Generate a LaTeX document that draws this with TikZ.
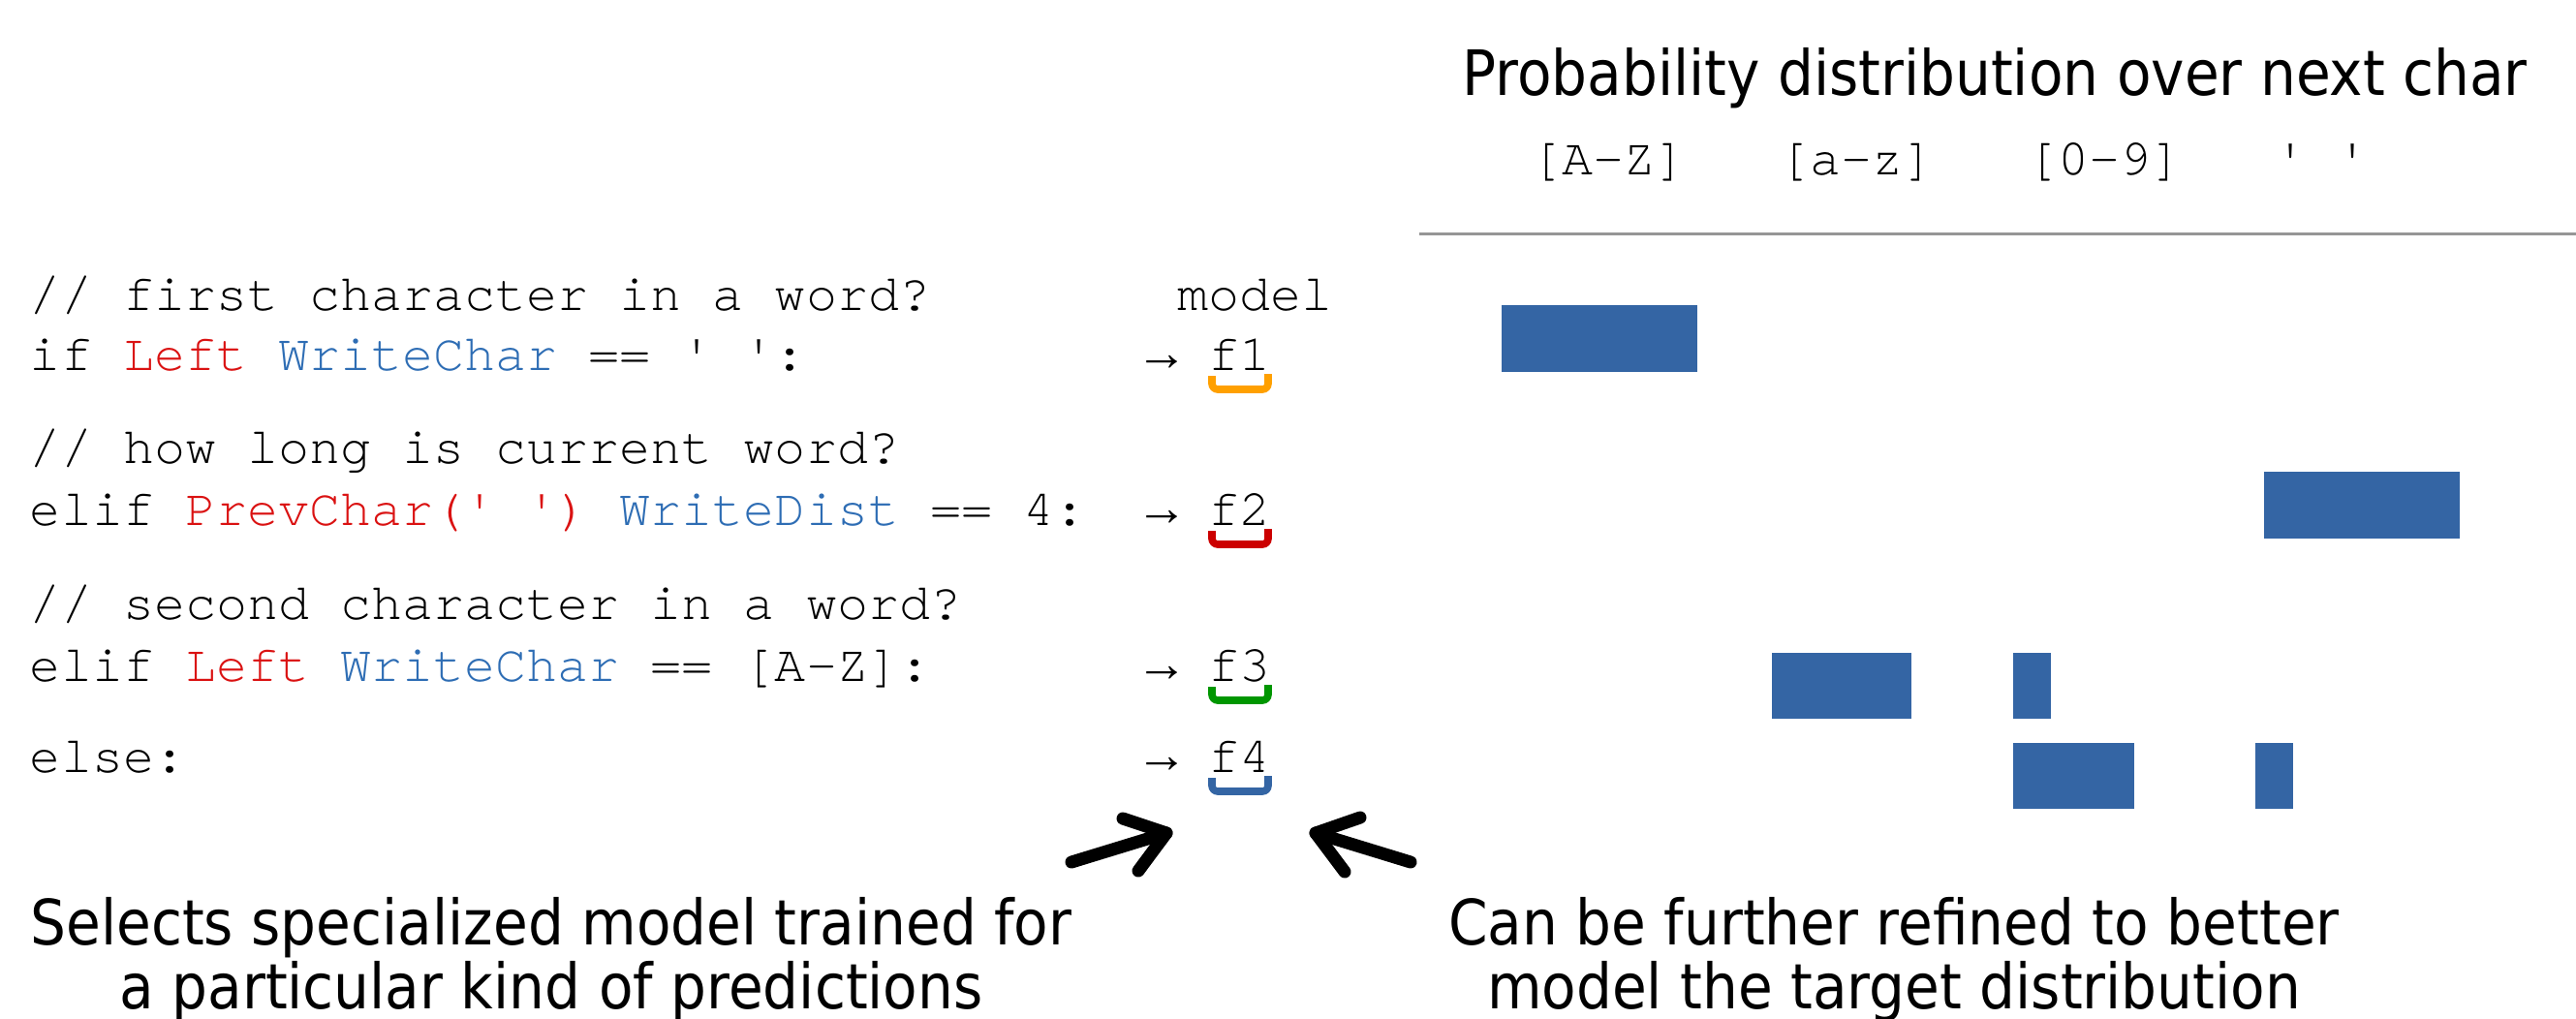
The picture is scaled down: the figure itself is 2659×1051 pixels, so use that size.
\documentclass[tikz,border=0pt]{standalone}
\usepackage{fontspec}
\setmonofont{TeX Gyre Cursor}[Ligatures=NoCommon]
\newfontfamily\arrowfont{Liberation Mono}
\newfontfamily\labelfont{DejaVu Sans}[FakeStretch=0.9]
\definecolor{codered}{RGB}{218,18,18}
\definecolor{codeblue}{RGB}{46,109,180}
\definecolor{fone}{RGB}{255,160,0}
\definecolor{ftwo}{RGB}{204,0,0}
\definecolor{fthree}{RGB}{0,150,0}
\definecolor{barblue}{RGB}{52,101,164}
\definecolor{rulegray}{RGB}{150,150,150}
\tikzset{
  code/.style={anchor=base west,inner sep=0pt,outer sep=0pt,font=\ttfamily\fontsize{26.7}{32}\selectfont},
  arr/.style={anchor=base west,inner sep=0pt,outer sep=0pt,font=\arrowfont\fontsize{26.7}{32}\selectfont},
  label/.style={anchor=base,inner sep=0pt,outer sep=0pt,font=\labelfont\fontsize{32.3}{33}\selectfont},
  fbrace/.style={line width=3.8pt,rounded corners=3pt,line cap=butt},
  bar/.style={fill=barblue},
  handarrow/.style={line width=6.5pt,line cap=round,line join=round,black}
}
\newcommand{\rd}[1]{\textcolor{codered}{#1}}
\newcommand{\bl}[1]{\textcolor{codeblue}{#1}}
\begin{document}
\begin{tikzpicture}[x=0.5pt,y=-0.5pt]
\useasboundingbox (0,0) rectangle (2659,1051);
% code
\node[code] (c1) at (31,320) {// f\kern0pt irst character in a word?};
\node[code] (c2) at (31,382) {if \rd{Left} \bl{WriteChar} == ' ':};
\node[code] (c3) at (31,478) {// how long is current word?};
\node[code] (c4) at (31,542) {elif \rd{PrevChar(' ')} \bl{WriteDist} == 4:};
\node[code] (c5) at (31,639) {// second character in a word?};
\node[code] (c6) at (31,703) {elif \rd{Left} \bl{WriteChar} == [A-Z]:};
\node[code] (c7) at (31,797) {else:};
\node[code] (model) at (1215,320) {model};
% arrows and models
\foreach \i/\y in {1/382,2/542,3/703,4/797}{
  \node[arr] (a\i) at (1183,\y) {→};
  \node[code] (f\i) at (1247,\y) {f\i};
}
\draw[fbrace,fone]   ([xshift=2pt,yshift=-3pt]f1.base west) -- ++(0,14) -- ++(58,0) -- ++(0,-16);
\draw[fbrace,ftwo]   ([xshift=2pt,yshift=-3pt]f2.base west) -- ++(0,14) -- ++(58,0) -- ++(0,-16);
\draw[fbrace,fthree] ([xshift=2pt,yshift=-3pt]f3.base west) -- ++(0,14) -- ++(58,0) -- ++(0,-16);
\draw[fbrace,barblue]([xshift=2pt,yshift=-3pt]f4.base west) -- ++(0,14) -- ++(58,0) -- ++(0,-16);
% right panel
\node[label] (title) at (2059,98) {Probability distribution over next char};
\node[code] (catA) at (1580,180) {[A-Z]};
\node[code] (cata) at (1836,180) {[a-z]};
\node[code] (catd) at (2092,180) {[0-9]};
\node[code] (cats) at (2348,180) {'\ '};
\coordinate (ruleL) at (1465,241);
\coordinate (ruleR) at (2659,241);
\draw[rulegray,line width=1.5pt] (ruleL) -- (ruleR);
\fill[bar] (1550,315) rectangle (1752,384);
\fill[bar] (2337,487) rectangle (2539,556);
\fill[bar] (1829,674) rectangle (1973,742);
\fill[bar] (2078,674) rectangle (2117,742);
\fill[bar] (2078,767) rectangle (2203,835);
\fill[bar] (2328,767) rectangle (2367,835);
% hand-drawn arrows
\coordinate (lt) at (1106,890);
\coordinate (lh) at (1204,860);
\coordinate (lb1) at (1159,845);
\coordinate (lb2) at (1175,899);
\draw[handarrow] (lt) -- (lh);
\draw[handarrow] (lb1) -- (lh) -- (lb2);
\coordinate (rt) at (1456,890);
\coordinate (rh) at (1358,860);
\coordinate (rb1) at (1404,844);
\coordinate (rb2) at (1388,900);
\draw[handarrow] (rt) -- (rh);
\draw[handarrow] (rb1) -- (rh) -- (rb2);
% bottom texts
\node[label] (sel1) at (569,975) {Selects specialized model trained for};
\node[label] (sel2) at (569,1041) {a particular kind of predictions};
\node[label] (can1) at (1955,975) {Can be further refined to better};
\node[label] (can2) at (1955,1041) {model the target distribution};
\end{tikzpicture}
\end{document}
